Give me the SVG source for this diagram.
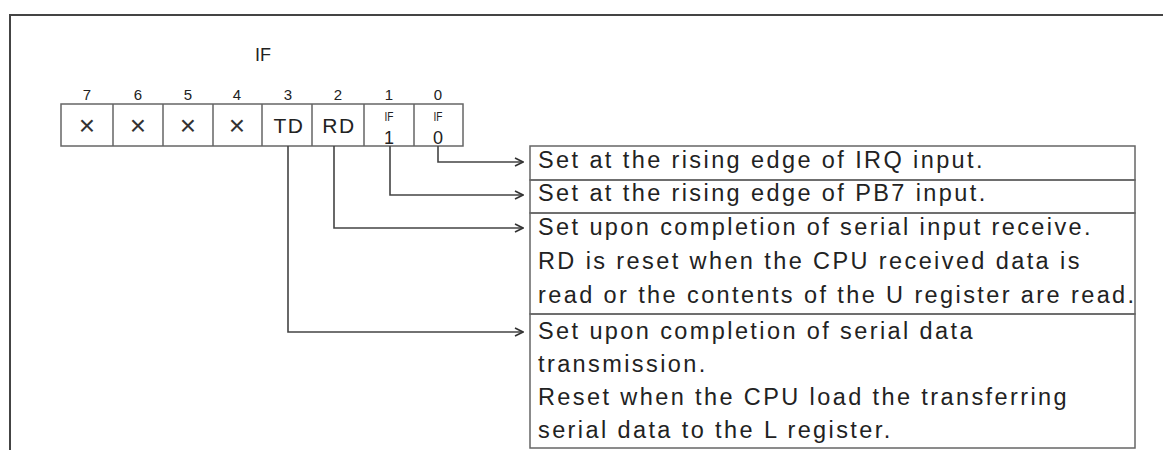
<svg xmlns="http://www.w3.org/2000/svg" width="1171" height="450" viewBox="0 0 1171 450">
<defs>
<marker id="arr" viewBox="0 0 10 10" refX="9" refY="5" markerWidth="10" markerHeight="10" markerUnits="userSpaceOnUse" orient="auto">
<path d="M1,1 L9,5 L1,9" fill="none" stroke="#333" stroke-width="1.6"/>
</marker>
</defs>
<style>
text{font-family:"Liberation Sans",Arial,sans-serif;fill:#222}
.frame{fill:none;stroke:#444;stroke-width:2}
.cell{fill:none;stroke:#666;stroke-width:1.5}
.box{fill:none;stroke:#666;stroke-width:1.5}
.num{font-size:15px;text-anchor:middle}
.x{font-size:28px;text-anchor:middle;fill:#333}
.fld{font-size:21px;text-anchor:middle;letter-spacing:1.5px}
.sm{font-size:13px;text-anchor:middle}
.bit{font-size:18px;text-anchor:middle}
.desc{font-size:23.5px;letter-spacing:2.4px}
.conn{fill:none;stroke:#444;stroke-width:1.6;marker-end:url(#arr)}
</style>
<rect width="1171" height="450" fill="#fff"/>
<path class="frame" d="M10,450 L10,15 L1163,15"/>
<text x="263" y="61" style="font-size:19px" text-anchor="middle" textLength="16" lengthAdjust="spacingAndGlyphs">IF</text>
<g id="register">
<rect class="cell" x="61" y="104" width="402" height="42"/>
<path class="cell" d="M113,104V146M163,104V146M213,104V146M262,104V146M312,104V146M364,104V146M414,104V146"/>
<text class="num" x="87" y="100">7</text>
<text class="num" x="138" y="100">6</text>
<text class="num" x="188" y="100">5</text>
<text class="num" x="237" y="100">4</text>
<text class="num" x="288" y="100">3</text>
<text class="num" x="338" y="100">2</text>
<text class="num" x="389" y="100">1</text>
<text class="num" x="438" y="100">0</text>
<text class="x" x="87" y="135">×</text>
<text class="x" x="138" y="135">×</text>
<text class="x" x="188" y="135">×</text>
<text class="x" x="237" y="135">×</text>
<text class="fld" x="289" y="133">TD</text>
<text class="fld" x="339" y="133">RD</text>
<text class="sm" x="389" y="121" textLength="9" lengthAdjust="spacingAndGlyphs">IF</text>
<text class="bit" x="389" y="144">1</text>
<text class="sm" x="438" y="121" textLength="9" lengthAdjust="spacingAndGlyphs">IF</text>
<text class="bit" x="438" y="144">0</text>
</g>
<g id="connectors">
<path class="conn" d="M438,146 V162 H523"/>
<path class="conn" d="M390,146 V195 H523"/>
<path class="conn" d="M334,146 V228 H523"/>
<path class="conn" d="M288,146 V332 H523"/>
</g>
<g id="desc-if0">
<rect class="box" x="530" y="146" width="605" height="34"/>
<text class="desc" x="538" y="168">Set at the rising edge of IRQ input.</text>
</g>
<g id="desc-if1">
<rect class="box" x="530" y="180" width="605" height="33"/>
<text class="desc" x="538" y="201">Set at the rising edge of PB7 input.</text>
</g>
<g id="desc-rd">
<rect class="box" x="530" y="213" width="605" height="101"/>
<text class="desc" x="538" y="235">Set upon completion of serial input receive.</text>
<text class="desc" x="538" y="269">RD is reset when the CPU received data is</text>
<text class="desc" x="538" y="303">read or the contents of the U register are read.</text>
</g>
<g id="desc-td">
<rect class="box" x="530" y="314" width="605" height="134"/>
<text class="desc" x="538" y="339">Set upon completion of serial data</text>
<text class="desc" x="538" y="372">transmission.</text>
<text class="desc" x="538" y="405">Reset when the CPU load the transferring</text>
<text class="desc" x="538" y="438">serial data to the L register.</text>
</g>
</svg>
